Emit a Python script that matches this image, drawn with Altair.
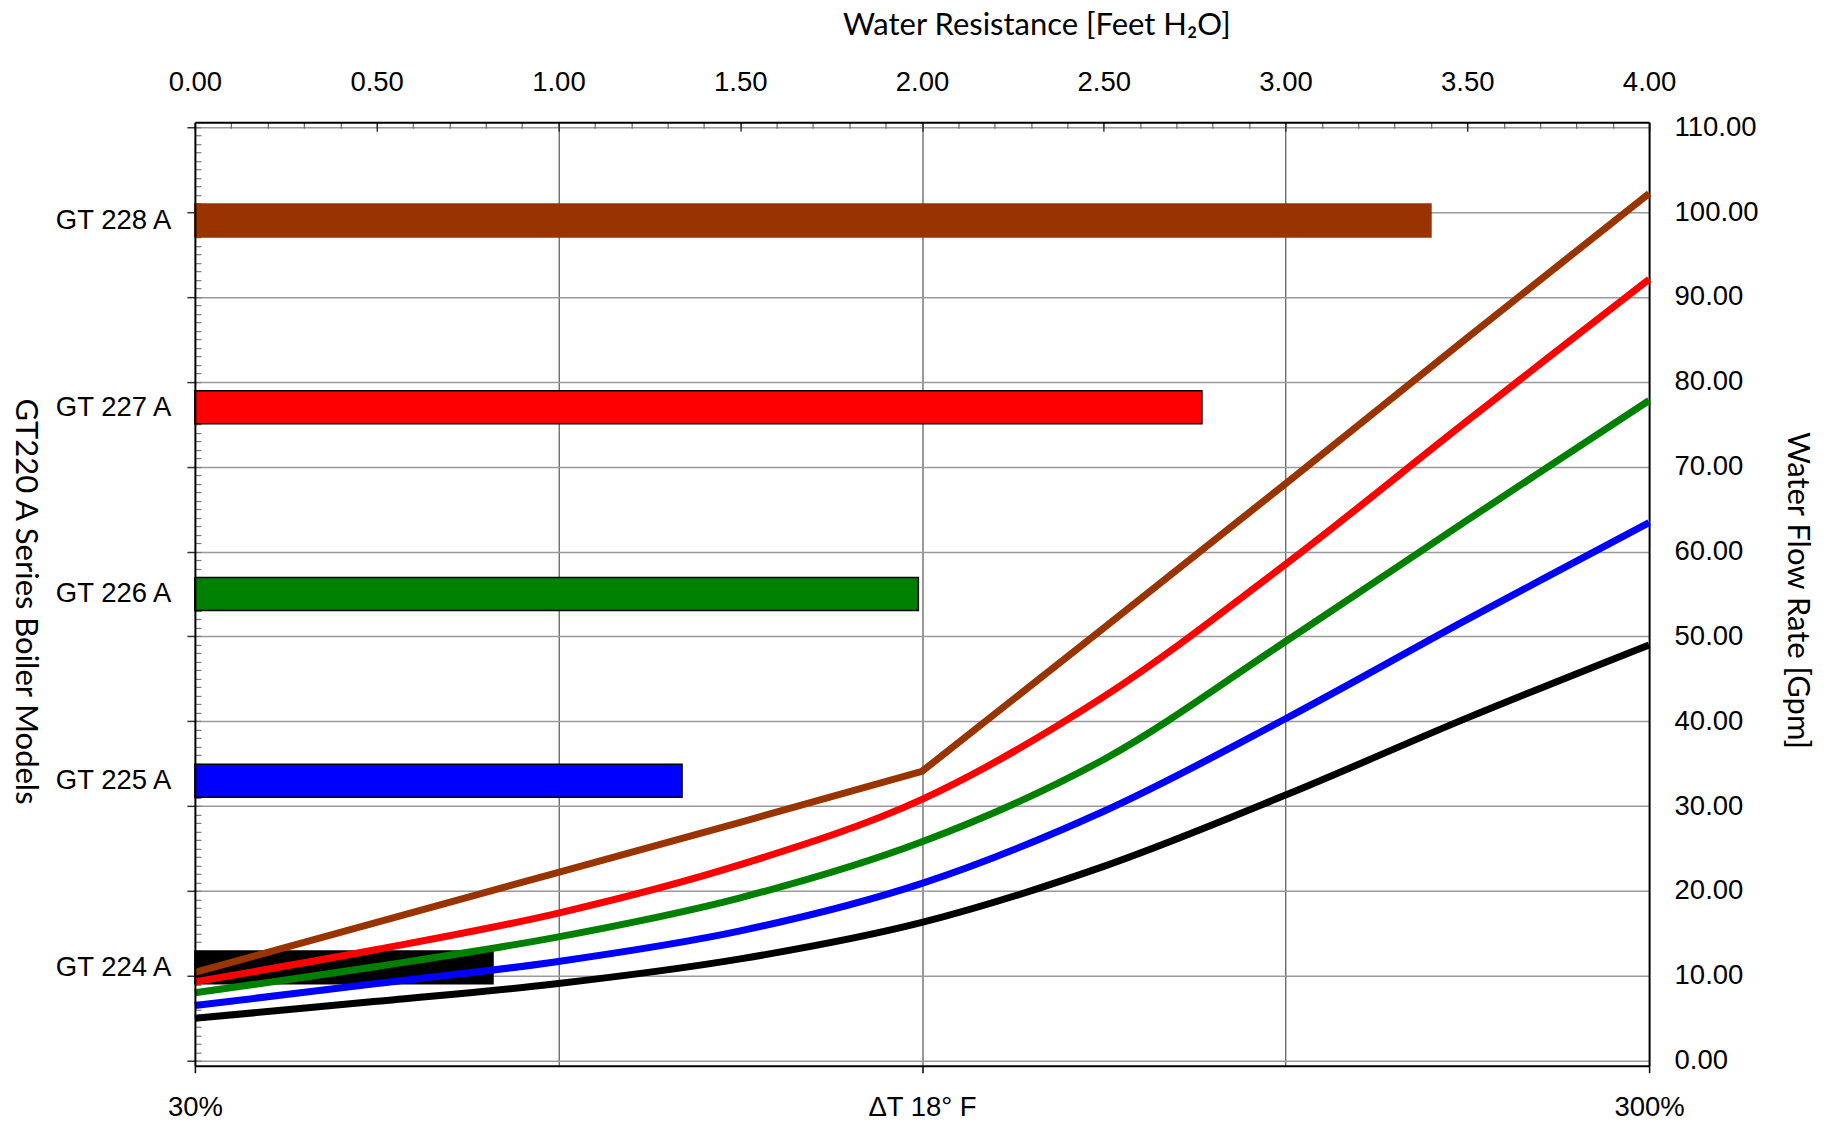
import altair as alt
import pandas as pd

# ---------------- data ----------------
models = ["GT 224 A", "GT 225 A", "GT 226 A", "GT 227 A", "GT 228 A"]
colors = ["#000000", "#0000FF", "#008000", "#FF0000", "#993300"]
bar_strokes = ["#000000", "#000000", "#000000", "#000000", "#993300"]
resistance = [0.82, 1.34, 1.99, 2.77, 3.40]          # Water Resistance [Feet H2O]

flow_x = [0.0, 0.5, 1.0, 1.5, 2.0, 2.5, 3.0, 3.5, 4.0]   # position along 30% .. 300%
flow_224 = [5.0, 7.0, 9.1, 12.0, 16.3, 22.9, 31.3, 40.4, 49.0]
flow_225 = [6.5, 9.1, 11.7, 15.3, 20.9, 29.4, 40.3, 52.0, 63.4]
flow_226 = [8.0, 11.1, 14.6, 19.2, 25.8, 35.5, 49.4, 63.7, 77.8]
flow_227 = [9.3, 13.1, 17.4, 23.1, 30.8, 42.9, 58.5, 75.4, 92.1]
flow_228 = [10.4, 16.3, 22.2, 28.1, 34.1, 51.0, 68.0, 85.2, 102.2]

top_labels = [0.0, 0.5, 1.0, 1.5, 2.0, 2.5, 3.0, 3.5, 4.0]
top_minor = [round(i * 0.1, 1) for i in range(41)]
top_grid = [1.0, 2.0, 3.0]
bottom_values = [0.0, 2.0, 4.0]
bottom_labels = ["30%", "ΔT 18° F", "300%"]
right_values = [float(v) for v in range(0, 111, 10)]
left_minor = [float(v) for v in range(0, 111)]

Y_MAX = 110.0
band = Y_MAX / len(models)
positions = [(i + 0.5) * band for i in range(len(models))]

bars = pd.DataFrame({"model": models, "res": resistance, "pos": positions})

rows = []
for m, ys in zip(models, [flow_224, flow_225, flow_226, flow_227, flow_228]):
    for xv, yv in zip(flow_x, ys):
        rows.append({"model": m, "x": xv, "flow": yv})
lines = pd.DataFrame(rows)
curved = lines[lines["model"] != "GT 228 A"]
straight = lines[lines["model"] == "GT 228 A"]

xs = alt.Scale(domain=[0, 4], nice=False, zero=False)
ys_ = alt.Scale(domain=[0, Y_MAX], nice=False, zero=False)
cscale = alt.Scale(domain=models, range=colors)

LABEL_FONT = "Liberation Sans, Arial, sans-serif"
TITLE_FONT = "Lato"
LFS = 27.5
TFS = 31

left_expr = " : ".join(
    f"datum.value == {p} ? '{m}'" for p, m in zip(positions, models)
) + " : ''"
bottom_expr = " : ".join(
    f"datum.value == {v} ? '{t}'" for v, t in zip(bottom_values, bottom_labels)
) + " : ''"

# ---------------- axes ----------------
ax_top = alt.Axis(orient="top", values=top_labels, format=".2f", ticks=False, tickSize=0,
                  labelPadding=32, labelBaseline="alphabetic", labelFont=LABEL_FONT,
                  labelFontSize=LFS, labelColor="black", labelFlush=False, grid=False,
                  domain=True, domainColor="black", domainWidth=2,
                  title="Water Resistance [Feet H₂O]", titleFont=TITLE_FONT,
                  titleFontSize=TFS, titleFontWeight="normal", titleColor="black",
                  titleX=842, titleY=-97, titleAlign="center", titleBaseline="middle",
                  titleAngle=0, zindex=1)
ax_left = alt.Axis(orient="left", values=positions, labelExpr=left_expr, ticks=False,
                   tickSize=0, labelPadding=24, labelFont=LABEL_FONT, labelFontSize=LFS,
                   labelColor="black", labelFlush=False, grid=False, domain=True,
                   domainColor="black", domainWidth=2, title="GT220 A Series Boiler Models",
                   titleFont=TITLE_FONT, titleFontSize=TFS, titleFontWeight="normal",
                   titleColor="black", titleAngle=90, titleX=-170, titleY=479,
                   titleAlign="center", titleBaseline="middle", zindex=1)
ax_bottom = alt.Axis(orient="bottom", values=bottom_values, labelExpr=bottom_expr,
                     ticks=True, tickSize=7, tickColor="black", tickWidth=1.5,
                     labelPadding=43, labelBaseline="alphabetic", labelFont=LABEL_FONT,
                     labelFontSize=LFS, labelColor="black", labelFlush=False, grid=False,
                     domain=True, domainColor="black", domainWidth=2, title="", zindex=1)
ax_right = alt.Axis(orient="right", values=right_values, format=".2f", ticks=False,
                    tickSize=0, labelPadding=25, labelFont=LABEL_FONT, labelFontSize=LFS,
                    labelColor="black", labelFlush=False, grid=True, gridColor="#9a9a9a",
                    gridWidth=1.5, domain=True, domainColor="black", domainWidth=2,
                    title="Water Flow Rate [Gpm]", titleFont=TITLE_FONT, titleFontSize=TFS,
                    titleFontWeight="normal", titleColor="black", titleAngle=90,
                    titleX=147, titleY=468, titleAlign="center", titleBaseline="middle",
                    zindex=0)
ax_vgrid = alt.Axis(orient="top", values=top_grid, labels=False, ticks=False, domain=False,
                    grid=True, gridColor="#333333", gridWidth=1, title="")
ax_left_major = alt.Axis(orient="left", values=right_values, labels=False, ticks=True,
                         tickSize=8, tickColor="#333333", tickWidth=1.5, domain=False,
                         grid=False, title="")
ax_top_minor = alt.Axis(orient="top", values=top_minor, labels=False, ticks=True, tickSize=6,
                        offset=-6, tickColor="#666666", tickWidth=1.2, domain=False,
                        grid=False, title="")
ax_left_minor = alt.Axis(orient="left", values=left_minor, labels=False, ticks=True,
                         tickSize=6, offset=-6, tickColor="#777777", tickWidth=1.2,
                         domain=False, grid=False, title="")
ax_top_major = alt.Axis(orient="top", values=top_labels, labels=False, ticks=True,
                        tickSize=9, offset=-9, tickColor="#222222", tickWidth=1.3,
                        domain=False, grid=False, title="")

# ---------------- layers ----------------
bar_layer = alt.Chart(bars).mark_bar(orient="horizontal", size=33, strokeWidth=1.5).encode(
    x=alt.X("res:Q", scale=xs, axis=ax_top),
    y=alt.Y("pos:Q", scale=ys_, axis=ax_left),
    color=alt.Color("model:N", scale=cscale, legend=None),
    stroke=alt.Stroke("model:N", scale=alt.Scale(domain=models, range=bar_strokes), legend=None),
)

curve_layer = alt.Chart(curved).mark_line(interpolate="catmull-rom", strokeWidth=7).encode(
    x=alt.X("x:Q", scale=xs, axis=ax_bottom),
    y=alt.Y("flow:Q", scale=ys_, axis=ax_right),
    color=alt.Color("model:N", scale=cscale, legend=None),
    detail="model:N",
)

straight_layer = alt.Chart(straight).mark_line(interpolate="linear", strokeWidth=7).encode(
    x=alt.X("x:Q", scale=xs, axis=ax_vgrid),
    y=alt.Y("flow:Q", scale=ys_, axis=ax_left_major),
    color=alt.Color("model:N", scale=cscale, legend=None),
)

ghost1 = alt.Chart(lines).mark_point(opacity=0).encode(
    x=alt.X("x:Q", scale=xs, axis=ax_top_minor),
    y=alt.Y("flow:Q", scale=ys_, axis=ax_left_minor),
)
ghost2 = alt.Chart(lines).mark_point(opacity=0).encode(
    x=alt.X("x:Q", scale=xs, axis=ax_top_major),
    y=alt.Y("flow:Q", scale=ys_, axis=None),
)

chart = alt.layer(
    bar_layer, curve_layer, straight_layer, ghost1, ghost2
).resolve_axis(
    x="independent", y="independent"
).properties(
    width=1455, height=944,
    autosize=alt.AutoSizeParams(type="none"),
    padding={"left": 187, "top": 114, "right": 170, "bottom": 56},
    background="white",
).configure_view(strokeWidth=0)

chart.save("out.html", embed_options={"renderer": "svg", "actions": False})
